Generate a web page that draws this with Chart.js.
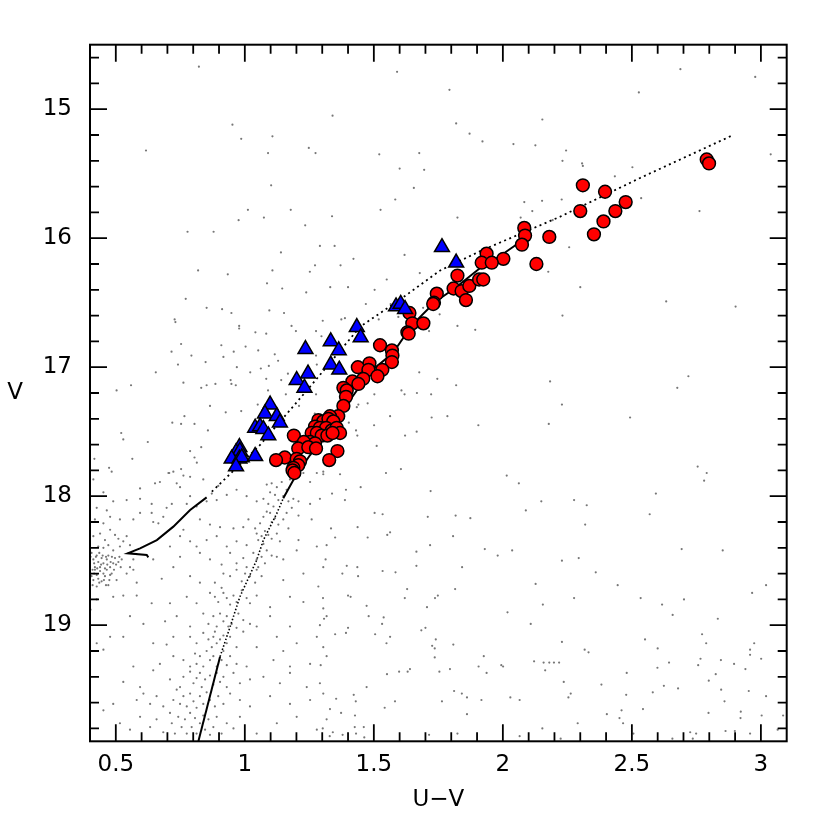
<!DOCTYPE html>
<html>
<head>
<meta charset="utf-8">
<title>V vs U-V</title>
<script src="https://cdn.jsdelivr.net/npm/chart.js@4"></script>
<style>
  html, body { margin: 0; padding: 0; background: #fff; }
  #wrap { width: 830px; height: 830px; }
</style>
</head>
<body>
<div id="wrap"><canvas id="cmd" width="830" height="830"></canvas></div>
<script>
// axis ranges and tick labels
const xLimits = [0.4, 3.1];
const yLimits = [14.5, 19.9];
const xMajorTicks = [0.5, 1, 1.5, 2, 2.5, 3];
const yMajorTicks = [15, 16, 17, 18, 19];
const xMinorStep = 0.1;
const yMinorStep = 0.2;

// [U-V, V] of the red circles
const redStars = [
  [2.790,15.39],[2.799,15.42],[2.310,15.59],[2.396,15.64],[2.476,15.72],[2.300,15.79],[2.436,15.79],
  [2.390,15.87],[2.353,15.97],[2.180,15.99],[2.083,15.92],[2.086,15.98],[2.074,16.05],[2.130,16.20],
  [2.002,16.16],[1.937,16.12],[1.918,16.19],[1.957,16.19],[1.824,16.29],[1.809,16.39],[1.840,16.41],
  [1.870,16.37],[1.908,16.32],[1.924,16.32],[1.857,16.48],[1.744,16.43],[1.733,16.50],[1.730,16.51],
  [1.638,16.58],[1.649,16.66],[1.692,16.66],[1.630,16.73],[1.635,16.74],[1.524,16.83],[1.570,16.87],
  [1.572,16.91],[1.570,16.96],[1.483,16.97],[1.438,17.00],[1.479,17.02],[1.533,17.02],[1.514,17.07],
  [1.459,17.09],[1.417,17.11],[1.440,17.13],[1.382,17.16],[1.395,17.18],[1.392,17.23],[1.382,17.30],
  [1.362,17.38],[1.330,17.38],[1.285,17.41],[1.304,17.42],[1.324,17.40],[1.343,17.42],[1.272,17.46],
  [1.291,17.47],[1.315,17.47],[1.337,17.49],[1.356,17.47],[1.369,17.51],[1.259,17.51],[1.279,17.51],
  [1.298,17.53],[1.320,17.53],[1.340,17.51],[1.190,17.53],[1.253,17.58],[1.229,17.58],[1.272,17.59],
  [1.207,17.63],[1.246,17.62],[1.276,17.63],[1.359,17.65],[1.155,17.70],[1.121,17.72],[1.201,17.71],
  [1.214,17.73],[1.327,17.72],[1.207,17.76],[1.188,17.78],[1.185,17.80],[1.192,17.82]
];

// [U-V, V] of the blue triangles
const blueStars = [
  [1.764,16.07],[1.819,16.19],[1.586,16.53],[1.604,16.51],[1.621,16.55],[1.434,16.69],[1.449,16.77],
  [1.333,16.80],[1.364,16.87],[1.235,16.86],[1.333,16.98],[1.366,17.02],[1.245,17.05],[1.201,17.10],
  [1.231,17.16],[1.098,17.29],[1.078,17.36],[1.124,17.38],[1.136,17.43],[1.040,17.47],[1.059,17.46],
  [1.072,17.48],[1.091,17.53],[0.979,17.62],[0.966,17.66],[0.981,17.65],[0.949,17.71],[0.979,17.71],
  [0.988,17.70],[1.040,17.69],[0.966,17.77]
];

// isochrones, each split where the line style changes
const youngSolid = [
  [0.852,18.009],[0.788,18.107],[0.723,18.236],[0.659,18.340],[0.594,18.404],[0.546,18.443],
  [0.620,18.456],[0.626,18.474]
];
const youngDotted = [
  [0.872,17.965],[1.059,17.603],[1.253,17.151],[1.447,16.686],[1.602,16.475],[1.757,16.250],
  [1.912,16.100],[2.067,15.967],[2.222,15.833],[2.532,15.533],[2.884,15.208]
];
const oldSolidFaint = [[0.820,19.900],[0.904,19.244]];
const oldDotted = [
  [0.904,19.244],[0.943,19.012],[0.981,18.779],[1.046,18.495],[1.072,18.340],[1.124,18.133],[1.149,18.016]
];
const oldSolidBright = [
  [1.149,18.016],[1.195,17.849],[1.253,17.681],[1.330,17.487],[1.408,17.254],[1.485,17.037],
  [1.574,16.890],[1.648,16.673],[1.737,16.495],[1.815,16.386],[1.912,16.231],[1.989,16.138],[2.078,16.014]
];

// small grey field stars
const fieldStars = [
  [0.822,14.67],[1.590,14.71],[2.688,14.69],[2.978,14.75],[1.793,14.85],[2.527,14.87],[0.952,15.12],
  [1.340,15.05],[1.819,15.11],[2.153,15.08],[1.871,15.19],[1.107,15.21],[0.986,15.23],[1.921,15.25],
  [2.041,15.27],[2.126,15.28],[2.245,15.32],[0.617,15.32],[1.090,15.34],[1.248,15.30],[1.274,15.34],
  [1.521,15.35],[1.676,15.34],[3.038,15.35],[2.231,15.40],[2.307,15.42],[2.310,15.44],[2.502,15.45],
  [2.434,15.52],[1.600,15.46],[1.695,15.47],[1.102,15.59],[1.655,15.61],[1.583,15.70],[2.083,15.72],
  [2.152,15.71],[2.228,15.70],[2.536,15.69],[2.762,15.79],[1.012,15.78],[1.178,15.78],[1.526,15.78],
  [2.114,15.79],[1.074,15.84],[0.976,15.86],[1.338,15.83],[1.824,15.84],[2.069,15.84],[0.778,15.95],
  [0.879,15.95],[1.234,15.90],[2.193,15.86],[1.291,16.06],[1.348,16.06],[1.140,16.11],[1.421,16.16],
  [1.619,16.13],[2.257,16.07],[0.819,16.25],[0.934,16.28],[1.107,16.25],[1.252,16.26],[1.272,16.21],
  [1.371,16.21],[1.550,16.32],[1.678,16.27],[2.176,16.26],[2.300,16.38],[1.086,16.35],[1.145,16.39],
  [1.238,16.42],[1.331,16.38],[1.400,16.38],[1.503,16.40],[0.771,16.47],[0.852,16.54],[0.912,16.55],
  [0.948,16.58],[1.095,16.56],[1.152,16.58],[1.302,16.64],[1.388,16.62],[1.469,16.51],[1.565,16.51],
  [1.691,16.54],[1.755,16.59],[2.633,16.49],[2.902,16.53],[2.231,16.60],[0.728,16.63],[0.731,16.65],
  [0.978,16.68],[0.978,16.70],[1.041,16.73],[1.083,16.74],[1.181,16.68],[1.198,16.72],[1.276,16.72],
  [1.297,16.76],[1.374,16.63],[1.519,16.63],[1.595,16.61],[1.652,16.71],[1.714,16.72],[1.824,16.68],
  [1.893,16.71],[0.753,16.82],[0.909,16.83],[0.957,16.88],[1.003,16.84],[1.116,16.90],[1.052,16.87],
  [1.276,16.91],[0.716,16.88],[0.793,16.91],[0.655,17.04],[0.741,16.98],[0.848,16.96],[0.917,16.92],
  [0.969,17.00],[1.021,17.04],[1.062,17.01],[1.093,16.99],[1.129,16.95],[1.167,17.05],[1.279,16.98],
  [1.478,16.98],[1.676,17.04],[0.559,17.14],[0.503,17.18],[0.762,17.12],[0.831,17.16],[0.852,17.14],
  [0.886,17.13],[0.945,17.10],[0.948,17.13],[0.965,17.14],[1.083,17.09],[1.141,17.10],[1.276,17.21],
  [1.502,17.21],[1.607,17.18],[1.667,17.20],[1.722,17.21],[1.746,17.09],[1.819,17.14],[2.183,17.11],
  [2.719,17.07],[2.676,17.16],[0.865,17.30],[0.926,17.35],[0.986,17.34],[1.050,17.29],[1.124,17.34],
  [1.210,17.30],[1.271,17.36],[0.766,17.38],[0.719,17.43],[0.805,17.44],[0.857,17.49],[0.753,17.44],
  [0.624,17.58],[0.521,17.51],[0.529,17.56],[0.564,17.71],[0.788,17.65],[0.805,17.70],[0.814,17.74],
  [0.831,17.62],[0.707,17.82],[0.753,17.79],[0.474,17.78],[0.417,17.71],[1.619,17.21],[1.090,17.18],
  [1.159,17.21],
  [0.484,17.81],[0.704,17.82],[0.723,17.81],[0.762,17.84],[0.788,17.85],[0.839,17.87],[0.652,17.90],
  [0.671,17.89],[0.736,17.90],[0.749,17.93],[0.897,17.92],[0.872,17.98],[1.085,17.91],[1.104,17.90],
  [1.124,17.93],[1.098,17.97],[1.117,17.99],[1.143,17.89],[1.162,17.95],[1.175,17.87],[1.227,17.82],
  [1.253,17.89],[1.279,17.82],[1.304,17.81],[0.413,17.87],[0.594,17.94],[0.452,17.97],
  [0.542,18.03],[0.594,18.02],[0.639,18.06],[0.697,18.09],[0.717,18.06],[0.775,18.06],[0.788,18.00],
  [0.813,18.08],[0.852,18.04],[0.891,18.03],[0.930,17.99],[0.968,17.95],[1.007,18.00],[1.046,18.04],
  [1.072,18.02],[1.091,18.06],[1.111,18.08],[1.130,18.03],[1.149,18.00],[1.169,18.04],[1.188,18.02],
  [1.182,18.09],[1.208,18.04],[1.253,18.06],[1.291,18.02],[0.426,18.09],[0.465,18.11],[0.490,18.04],
  [0.419,18.18],[0.452,18.21],[0.478,18.16],[0.516,18.18],[0.568,18.18],[0.594,18.13],[0.639,18.13],
  [0.645,18.20],[0.665,18.21],[0.684,18.16],[0.762,18.26],[0.826,18.18],[0.865,18.22],[0.904,18.24],
  [0.956,18.25],[0.994,18.24],[1.014,18.18],[1.040,18.25],[1.059,18.21],[1.072,18.16],[1.085,18.12],
  [1.098,18.13],[1.104,18.20],[1.117,18.17],[1.130,18.22],[1.149,18.18],[1.162,18.13],[1.169,18.25],
  [1.208,18.15],[1.259,18.18],
  [0.413,18.31],[0.439,18.29],[0.458,18.34],[0.478,18.26],[0.497,18.30],[0.510,18.33],[0.529,18.35],
  [0.542,18.31],[0.432,18.39],[0.452,18.40],[0.471,18.38],[0.490,18.42],[0.516,18.39],[0.555,18.38],
  [0.710,18.39],[0.749,18.31],[0.788,18.35],[0.813,18.39],[0.852,18.34],[0.891,18.31],[0.930,18.39],
  [0.968,18.35],[1.007,18.38],[1.046,18.29],[1.052,18.34],[1.065,18.31],[1.078,18.27],[1.091,18.30],
  [1.072,18.37],[1.104,18.33],[1.124,18.29],[1.136,18.35],[1.208,18.34],[1.279,18.39],
  [0.402,18.47],[0.413,18.49],[0.426,18.46],[0.432,18.51],[0.445,18.48],[0.452,18.52],[0.465,18.49],
  [0.471,18.46],[0.478,18.55],[0.490,18.52],[0.497,18.48],[0.510,18.51],[0.523,18.49],[0.458,18.56],
  [0.439,18.55],[0.419,18.55],[0.555,18.55],[0.568,18.49],[0.645,18.49],[0.723,18.55],[0.749,18.47],
  [0.826,18.44],[0.865,18.49],[0.910,18.53],[0.943,18.44],[0.968,18.52],[0.994,18.48],[1.007,18.55],
  [1.033,18.44],[1.046,18.49],[1.052,18.55],[1.065,18.47],[1.078,18.52],[1.085,18.42],[1.104,18.46],
  [1.124,18.47],[1.149,18.49],[1.201,18.42],[1.304,18.55],
  [0.406,18.44],[0.416,18.52],[0.423,18.47],[0.436,18.44],[0.443,18.53],[0.449,18.46],[0.462,18.47],
  [0.467,18.53],[0.480,18.51],[0.485,18.47],[0.493,18.57],[0.501,18.53],[0.514,18.47],[0.519,18.55],
  [0.410,18.57],[0.428,18.56],[0.436,18.67],[0.454,18.65],[0.462,18.69],[0.475,18.65],[0.484,18.60],
  [0.416,18.60],
  [0.402,18.60],[0.406,18.62],[0.413,18.65],[0.419,18.57],[0.426,18.61],[0.432,18.64],[0.439,18.58],
  [0.445,18.66],[0.452,18.60],[0.458,18.62],[0.465,18.57],[0.471,18.69],[0.478,18.61],[0.410,18.69],
  [0.426,18.70],[0.503,18.65],[0.542,18.60],[0.568,18.57],[0.581,18.67],[0.678,18.64],[0.788,18.62],
  [0.826,18.67],[0.884,18.67],[0.910,18.71],[0.917,18.60],[0.943,18.62],[0.968,18.57],[0.988,18.66],
  [1.001,18.60],[1.020,18.62],[1.040,18.67],[1.046,18.57],[1.065,18.62],[1.149,18.65],[1.227,18.60],
  [1.285,18.70],
  [0.426,18.80],[0.490,18.78],[0.529,18.77],[0.581,18.77],[0.639,18.83],[0.710,18.83],[0.775,18.78],
  [0.813,18.83],[0.865,18.75],[0.884,18.78],[0.897,18.82],[0.917,18.75],[0.930,18.79],[0.943,18.84],
  [0.956,18.77],[0.968,18.82],[0.988,18.73],[1.007,18.79],[1.020,18.83],[1.046,18.77],[1.098,18.86],
  [1.175,18.78],[1.227,18.82],[1.304,18.87],
  [0.402,18.88],[0.555,18.93],[0.607,18.99],[0.691,18.97],[0.736,18.93],[0.788,19.01],[0.839,18.91],
  [0.859,18.99],[0.878,18.93],[0.891,19.01],[0.904,18.91],[0.917,18.97],[0.930,18.93],[0.936,19.01],
  [0.949,18.99],[0.968,19.02],[0.975,18.91],[0.994,18.96],[1.020,18.99],[1.046,19.01],[1.098,18.93],
  [1.175,19.01],[1.291,19.00],[1.317,18.93],
  [0.426,19.14],[0.478,19.09],[0.529,19.09],[0.645,19.14],[0.697,19.15],[0.723,19.09],[0.788,19.09],
  [0.813,19.14],[0.839,19.06],[0.859,19.11],[0.872,19.17],[0.878,19.09],[0.884,19.05],[0.891,19.14],
  [0.904,19.11],[0.917,19.08],[0.930,19.14],[0.943,19.09],[0.968,19.17],[0.994,19.05],[1.046,19.17],
  [1.124,19.09],[1.201,19.14],[1.279,19.09],[1.304,19.17],
  [0.452,19.19],[0.568,19.32],[0.671,19.30],[0.723,19.24],[0.762,19.27],[0.788,19.32],[0.807,19.22],
  [0.813,19.30],[0.826,19.24],[0.839,19.32],[0.852,19.20],[0.865,19.27],[0.878,19.24],[0.891,19.32],
  [0.910,19.27],[0.917,19.20],[0.930,19.31],[0.943,19.24],[0.968,19.30],[1.007,19.32],[1.111,19.27],
  [1.149,19.20],[1.175,19.32],[1.253,19.30],[1.317,19.24],
  [0.529,19.44],[0.594,19.48],[0.645,19.35],[0.710,19.42],[0.749,19.48],[0.762,19.40],[0.788,19.36],
  [0.801,19.45],[0.813,19.41],[0.826,19.37],[0.833,19.48],[0.846,19.42],[0.865,19.39],[0.878,19.46],
  [0.891,19.37],[0.904,19.44],[0.917,19.40],[0.930,19.48],[0.956,19.37],[0.981,19.45],[1.020,19.42],
  [1.072,19.40],[1.136,19.45],[1.175,19.37],[1.240,19.48],[1.291,19.45],
  [0.490,19.61],[0.581,19.58],[0.607,19.53],[0.633,19.61],[0.658,19.55],[0.684,19.63],[0.723,19.58],
  [0.736,19.50],[0.749,19.61],[0.762,19.55],[0.775,19.63],[0.788,19.53],[0.801,19.59],[0.813,19.64],
  [0.826,19.55],[0.839,19.61],[0.852,19.52],[0.865,19.58],[0.884,19.63],[0.897,19.55],[0.917,19.61],
  [0.943,19.53],[0.981,19.58],[1.020,19.63],[1.098,19.55],[1.175,19.61],[1.253,19.58],[1.304,19.53],
  [0.452,19.66],[0.516,19.76],[0.555,19.81],[0.594,19.71],[0.633,19.79],[0.658,19.73],[0.684,19.83],
  [0.710,19.68],[0.717,19.76],[0.729,19.84],[0.742,19.71],[0.755,19.79],[0.768,19.73],[0.775,19.84],
  [0.788,19.68],[0.794,19.79],[0.807,19.72],[0.813,19.84],[0.826,19.76],[0.839,19.70],[0.846,19.81],
  [0.859,19.73],[0.865,19.85],[0.878,19.79],[0.891,19.71],[0.910,19.84],[0.930,19.76],[0.956,19.80],
  [0.981,19.71],[1.046,19.84],[1.124,19.76],[1.201,19.71],[1.279,19.81],[1.317,19.73],
  [1.476,17.28],[1.440,17.29],[1.434,17.31],[1.563,17.38],[1.724,17.39],[1.785,17.38],[1.905,17.45],
  [2.229,17.29],[2.493,17.39],[2.178,17.44],[1.501,17.45],[1.403,17.43],[1.431,17.49],[1.436,17.53],
  [1.621,17.53],[1.666,17.50],[1.511,17.61],[1.304,17.83],[1.369,17.83],[1.547,17.82],[1.605,17.79],
  [2.015,17.84],[2.062,17.90],[2.755,17.77],[2.790,17.82],[2.780,17.88],[2.593,17.98],[1.338,17.98],
  [1.392,17.95],[1.449,17.93],[1.388,18.03],[1.720,17.96],[2.149,18.04],[2.276,18.03],[2.325,18.07],
  [2.089,18.11],[2.569,18.14],[1.503,18.13],[1.534,18.14],[1.709,18.16],[1.817,18.15],[1.874,18.17],
  [2.319,18.22],[1.334,18.25],[1.437,18.24],[1.476,18.32],[1.350,18.32],[1.552,18.30],[1.563,18.28],
  [1.807,18.31],[1.317,18.38],[1.718,18.38],[1.930,18.41],[1.980,18.46],[2.036,18.42],[2.693,18.41],
  [2.852,18.42],[1.313,18.49],[1.395,18.54],[1.436,18.55],[1.378,18.60],[1.439,18.62],[1.534,18.58],
  [1.584,18.59],[1.665,18.54],[1.665,18.43],[1.842,18.55],[2.229,18.50],[2.294,18.48],[2.360,18.59],
  [2.127,18.68],[2.445,18.69],[3.020,18.69],[2.966,18.75],[1.303,18.79],[1.400,18.77],[1.410,18.78],
  [1.629,18.72],[1.620,18.79],[1.737,18.79],[1.748,18.77],[1.815,18.72],[2.155,18.84],[2.276,18.79],
  [2.534,18.79],[2.617,18.84],[2.702,18.80],[2.658,18.92],[1.472,18.85],[1.706,18.86],[2.018,18.90],
  [1.307,18.95],[1.480,18.93],[1.538,18.94],[1.532,18.99],[2.833,18.95],[2.108,18.99],[1.350,19.07],
  [1.392,19.06],[1.400,19.02],[1.505,19.07],[1.563,19.09],[1.549,19.14],[1.684,19.04],[1.700,19.02],
  [1.740,19.11],[1.726,19.16],[1.736,19.18],[1.808,19.15],[2.551,19.11],[2.772,19.07],[2.788,19.14],
  [2.229,19.13],[2.317,19.19],[2.332,19.21],[2.600,19.18],[2.974,19.14],[2.958,19.19],[2.958,19.23],
  [1.736,19.25],[1.926,19.24],[2.121,19.28],[2.158,19.29],[2.180,19.29],[2.198,19.29],[2.218,19.29],
  [2.164,19.35],[1.994,19.31],[2.001,19.32],[1.906,19.32],[1.937,19.37],[1.754,19.36],[1.795,19.34],
  [1.631,19.36],[1.640,19.34],[1.598,19.36],[1.551,19.38],[1.294,19.31],[2.766,19.26],[2.757,19.31],
  [2.845,19.27],[2.896,19.30],[2.940,19.34],[3.001,19.26],[2.644,19.29],[2.599,19.33],[2.480,19.37],
  [2.825,19.38],[2.798,19.43],[2.846,19.50],[2.859,19.59],[2.953,19.51],[3.020,19.55],[2.679,19.49],
  [2.624,19.47],[2.581,19.52],[2.478,19.54],[2.543,19.65],[2.382,19.46],[2.236,19.44],[2.263,19.53],
  [2.254,19.56],[2.029,19.56],[2.065,19.58],[1.917,19.58],[1.861,19.56],[1.841,19.53],[1.811,19.51],
  [1.861,19.69],[1.764,19.59],[1.582,19.59],[1.542,19.64],[1.472,19.48],[1.422,19.54],[1.430,19.59],
  [1.354,19.57],[1.330,19.65],[1.373,19.68],[1.427,19.70],[2.403,19.69],[2.460,19.66],[2.452,19.72],
  [2.466,19.76],[2.290,19.76],[2.797,19.68],[2.922,19.67],[2.921,19.72],[3.003,19.70],[3.086,19.70],
  [2.153,19.80],[2.065,19.86],[2.224,19.88],[1.824,19.84],[1.714,19.85],[1.463,19.87],[1.431,19.84],
  [1.426,19.79],[1.461,19.79],[1.379,19.85],[1.341,19.83],[1.329,19.86],[1.302,19.80],[2.863,19.82],
  [2.899,19.82],[2.958,19.84],[2.726,19.83],[2.749,19.84],[2.736,19.88],[2.657,19.88],[2.506,19.84],
  [3.065,19.81]
];

const fontFamily = '"DejaVu Sans", "Liberation Sans", sans-serif';

function toXY(list) {
  return list.map(p => ({ x: p[0], y: p[1] }));
}

function isMajor(v, majors) {
  return majors.some(m => Math.abs(m - v) < 1e-6);
}

// frame, inward ticks on all four sides, and the upright V label
const frameTicks = {
  id: 'frameTicks',
  afterDraw(chart) {
    const { ctx, chartArea: a, scales: { x, y } } = chart;
    ctx.save();
    ctx.strokeStyle = '#000';
    ctx.lineWidth = 1.8;
    ctx.beginPath();
    for (let k = Math.ceil(xLimits[0] / xMinorStep); k * xMinorStep < xLimits[1] + 1e-9; k++) {
      const v = +(k * xMinorStep).toFixed(4);
      if (v <= xLimits[0] + 1e-6 || v >= xLimits[1] - 1e-6) continue;
      const len = isMajor(v, xMajorTicks) ? 17 : 9;
      const px = x.getPixelForValue(v);
      ctx.moveTo(px, a.bottom); ctx.lineTo(px, a.bottom - len);
      ctx.moveTo(px, a.top); ctx.lineTo(px, a.top + len);
    }
    for (let k = Math.ceil(yLimits[0] / yMinorStep); k * yMinorStep < yLimits[1] + 1e-9; k++) {
      const v = +(k * yMinorStep).toFixed(4);
      if (v <= yLimits[0] + 1e-6 || v >= yLimits[1] - 1e-6) continue;
      const len = isMajor(v, yMajorTicks) ? 17 : 9;
      const py = y.getPixelForValue(v);
      ctx.moveTo(a.left, py); ctx.lineTo(a.left + len, py);
      ctx.moveTo(a.right, py); ctx.lineTo(a.right - len, py);
    }
    ctx.stroke();
    ctx.lineWidth = 2;
    ctx.strokeRect(a.left, a.top, a.right - a.left, a.bottom - a.top);
    ctx.fillStyle = '#000';
    ctx.font = '23px ' + fontFamily;
    ctx.textAlign = 'center';
    ctx.textBaseline = 'middle';
    ctx.fillText('V', 15, (a.top + a.bottom) / 2);
    ctx.restore();
  }
};

function lineSet(points, dash, width) {
  return {
    data: toXY(points),
    showLine: true,
    pointRadius: 0,
    borderColor: '#000',
    borderWidth: width,
    borderDash: dash,
    fill: false,
    tension: 0,
    order: 2
  };
}

new Chart(document.getElementById('cmd'), {
  type: 'scatter',
  data: {
    datasets: [
      {
        data: toXY(blueStars),
        pointStyle: 'triangle',
        pointRadius: 8.6,
        backgroundColor: '#0000ff',
        borderColor: '#000',
        borderWidth: 1.5,
        order: 0
      },
      {
        data: toXY(redStars),
        pointStyle: 'circle',
        pointRadius: 6.4,
        backgroundColor: '#ff0000',
        borderColor: '#000',
        borderWidth: 1.5,
        order: 1
      },
      lineSet(youngSolid, [], 2),
      lineSet(youngDotted, [2, 3.5], 1.8),
      lineSet(oldSolidFaint, [], 2),
      lineSet(oldDotted, [1.5, 2], 1.6),
      lineSet(oldSolidBright, [], 2),
      {
        data: toXY(fieldStars),
        pointRadius: 1.1,
        backgroundColor: '#777777',
        borderWidth: 0,
        order: 3
      }
    ]
  },
  options: {
    responsive: false,
    animation: false,
    events: [],
    layout: { padding: { left: 0, top: 44.7, right: 43.3, bottom: 0 } },
    plugins: {
      legend: { display: false },
      tooltip: { enabled: false }
    },
    scales: {
      x: {
        type: 'linear',
        position: 'bottom',
        min: xLimits[0],
        max: xLimits[1],
        grid: { display: false, drawTicks: false },
        border: { display: false },
        afterBuildTicks: s => { s.ticks = xMajorTicks.map(v => ({ value: v })); },
        afterFit: s => { s.height = 88.7; },
        ticks: {
          color: '#000',
          font: { family: fontFamily, size: 23 },
          padding: 10,
          maxRotation: 0,
          autoSkip: false,
          callback: v => String(v)
        },
        title: {
          display: true,
          text: 'U\u2212V',
          color: '#000',
          font: { family: fontFamily, size: 23 },
          padding: { top: 0, bottom: 16 }
        }
      },
      y: {
        type: 'linear',
        position: 'left',
        reverse: true,
        min: yLimits[0],
        max: yLimits[1],
        grid: { display: false, drawTicks: false },
        border: { display: false },
        afterBuildTicks: s => { s.ticks = yMajorTicks.map(v => ({ value: v })); },
        afterFit: s => { s.width = 90; },
        ticks: {
          color: '#000',
          font: { family: fontFamily, size: 23 },
          padding: 18,
          autoSkip: false,
          callback: v => String(v)
        }
      }
    }
  },
  plugins: [frameTicks]
});
</script>
</body>
</html>
